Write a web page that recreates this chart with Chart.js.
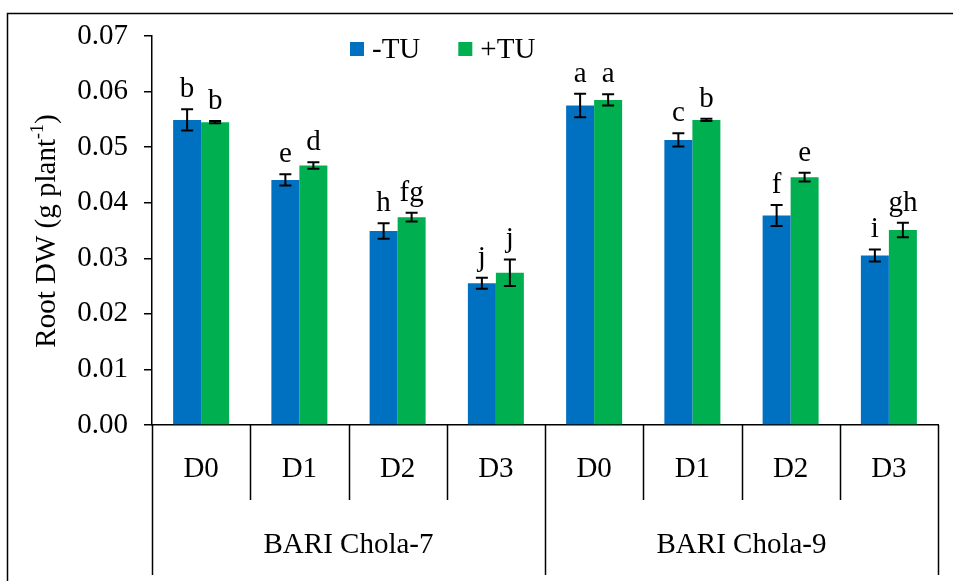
<!DOCTYPE html>
<html>
<head>
<meta charset="utf-8">
<script src="https://cdn.jsdelivr.net/npm/chart.js@4/dist/chart.umd.min.js"></script>
<style>
  html, body { margin: 0; padding: 0; background: #fff; }
  canvas { display: block; }
</style>
</head>
<body>
<canvas id="chart" width="953" height="581"></canvas>
<script>
// Root dry weight by treatment and variety
const categories = ['D0', 'D1', 'D2', 'D3', 'D0', 'D1', 'D2', 'D3'];
const varieties = ['BARI Chola-7', 'BARI Chola-9'];
const seriesNames = ['-TU', '+TU'];

const minusTU = [0.0549, 0.0441, 0.0349, 0.0255, 0.0575, 0.0513, 0.0377, 0.0305];
const plusTU  = [0.0545, 0.0467, 0.0374, 0.0274, 0.0585, 0.0549, 0.0446, 0.0351];

const minusTUErr = [0.0019, 0.0010, 0.0014, 0.0010, 0.0021, 0.0012, 0.0019, 0.0011];
const plusTUErr  = [0.0002, 0.0006, 0.0008, 0.0024, 0.0010, 0.0002, 0.0008, 0.0013];

const minusTULetters = ['b', 'e', 'h', 'j', 'a', 'c', 'f', 'i'];
const plusTULetters  = ['b', 'd', 'fg', 'j', 'a', 'b', 'e', 'gh'];

const FONT = '"Liberation Serif", "Times New Roman", serif';
const FS = 29;

const errorsByDataset = [minusTUErr, plusTUErr];
const lettersByDataset = [minusTULetters, plusTULetters];

const annotate = {
  id: 'annotate',
  beforeDraw(chart) {
    const ctx = chart.ctx;
    ctx.save();
    ctx.fillStyle = '#fff';
    ctx.fillRect(0, 0, chart.width, chart.height);
    ctx.restore();
  },
  afterDatasetsDraw(chart) {
    const ctx = chart.ctx;
    const y = chart.scales.y;
    ctx.save();
    chart.data.datasets.forEach((ds, di) => {
      const meta = chart.getDatasetMeta(di);
      const errs = errorsByDataset[di];
      const letters = lettersByDataset[di];
      meta.data.forEach((bar, i) => {
        const v = ds.data[i];
        const yTop = y.getPixelForValue(v + errs[i]);
        const yBot = y.getPixelForValue(v - errs[i]);
        const x = bar.x;
        ctx.strokeStyle = '#000';
        ctx.lineWidth = 2;
        ctx.beginPath();
        ctx.moveTo(x, yTop); ctx.lineTo(x, yBot);
        ctx.moveTo(x - 6, yTop); ctx.lineTo(x + 6, yTop);
        ctx.moveTo(x - 6, yBot); ctx.lineTo(x + 6, yBot);
        ctx.stroke();
        ctx.fillStyle = '#000';
        ctx.font = FS + 'px ' + FONT;
        ctx.textAlign = 'center';
        ctx.textBaseline = 'alphabetic';
        ctx.fillText(letters[i], x, yTop - 12);
      });
    });
    ctx.restore();
  },
  afterDraw(chart) {
    const ctx = chart.ctx;
    const xs = chart.scales.x;
    const area = chart.chartArea;
    const n = categories.length;
    const step = (xs.right - xs.left) / n;
    const base = area.bottom;
    ctx.save();
    ctx.strokeStyle = '#000';
    ctx.lineWidth = 1.5;

    // category table below the axis
    ctx.beginPath();
    for (let i = 0; i <= n; i++) {
      const x = Math.round(xs.left + i * step) + 0.5;
      const isGroupEdge = (i % 4 === 0);
      ctx.moveTo(x, base);
      ctx.lineTo(x, isGroupEdge ? 575 : 500);
    }
    ctx.stroke();

    ctx.fillStyle = '#000';
    ctx.font = FS + 'px ' + FONT;
    ctx.textAlign = 'center';
    ctx.textBaseline = 'middle';
    categories.forEach((c, i) => {
      ctx.fillText(c, xs.left + (i + 0.5) * step, 469);
    });
    varieties.forEach((v, g) => {
      ctx.fillText(v, xs.left + (g * 4 + 2) * step, 545);
    });

    // legend
    ctx.textAlign = 'left';
    let lx = 350;
    chart.data.datasets.forEach((ds) => {
      ctx.fillStyle = ds.backgroundColor;
      ctx.fillRect(lx, 42, 14, 14);
      ctx.fillStyle = '#000';
      ctx.fillText(ds.label, lx + 22, 50);
      lx += 22 + ctx.measureText(ds.label).width + 38;
    });

    // y axis title with superscript
    ctx.translate(45, 231);
    ctx.rotate(-Math.PI / 2);
    const main = 'Root DW (g plant';
    const sup = '-1';
    const tail = ')';
    ctx.font = FS + 'px ' + FONT;
    const wMain = ctx.measureText(main).width;
    const wTail = ctx.measureText(tail).width;
    ctx.font = Math.round(FS * 0.62) + 'px ' + FONT;
    const wSup = ctx.measureText(sup).width;
    const total = wMain + wSup + wTail;
    let tx = -total / 2;
    ctx.textAlign = 'left';
    ctx.textBaseline = 'alphabetic';
    ctx.font = FS + 'px ' + FONT;
    ctx.fillText(main, tx, 10);
    tx += wMain;
    ctx.font = Math.round(FS * 0.62) + 'px ' + FONT;
    ctx.fillText(sup, tx, -2);
    tx += wSup;
    ctx.font = FS + 'px ' + FONT;
    ctx.fillText(tail, tx, 10);
    ctx.restore();

    // outer frame
    ctx.save();
    ctx.strokeStyle = '#000';
    ctx.lineWidth = 1.5;
    ctx.strokeRect(7.5, 13.5, 1000, 1000);
    ctx.restore();
  }
};

new Chart(document.getElementById('chart'), {
  type: 'bar',
  data: {
    labels: categories,
    datasets: [
      { label: seriesNames[0], data: minusTU, backgroundColor: '#0070C0', borderWidth: 0 },
      { label: seriesNames[1], data: plusTU, backgroundColor: '#00B050', borderWidth: 0 }
    ]
  },
  options: {
    responsive: false,
    animation: false,
    devicePixelRatio: 1,
    layout: { padding: { top: 36, right: 15, left: 0, bottom: 0 } },
    plugins: { legend: { display: false }, tooltip: { enabled: false } },
    datasets: { bar: { categoryPercentage: 0.57, barPercentage: 1.0 } },
    scales: {
      x: {
        grid: { display: false },
        border: { display: true, color: '#000', width: 1.5 },
        ticks: { display: false },
        afterFit(scale) { scale.height = 156; }
      },
      y: {
        min: 0,
        max: 0.07,
        grid: { drawOnChartArea: false, drawTicks: true, tickLength: 8, color: '#000', lineWidth: 1.5 },
        border: { display: true, color: '#000', width: 1.5 },
        ticks: {
          stepSize: 0.01,
          padding: 16,
          color: '#000',
          font: { family: FONT, size: FS },
          callback: (v) => Number(v).toFixed(2)
        },
        afterFit(scale) { scale.width = 152; }
      }
    }
  },
  plugins: [annotate]
});
</script>
</body>
</html>
